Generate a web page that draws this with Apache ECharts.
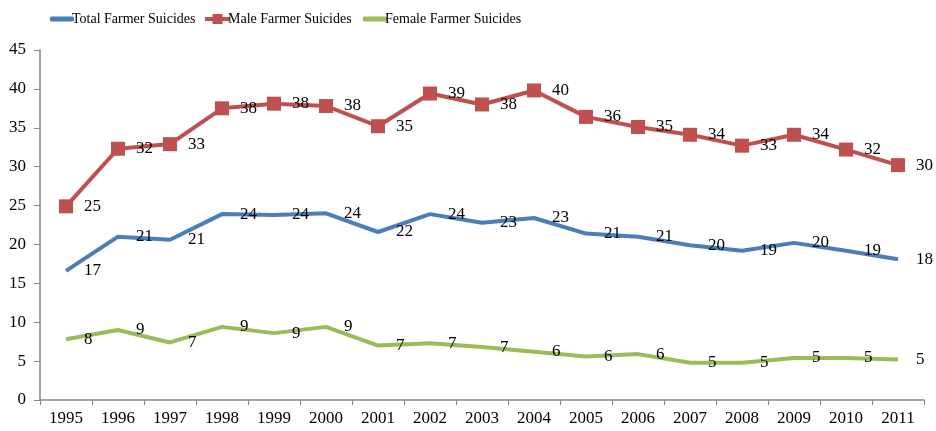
<!DOCTYPE html>
<html><head><meta charset="utf-8">
<script src="https://cdn.jsdelivr.net/npm/echarts@6/dist/echarts.min.js"></script>
<style>html,body{margin:0;padding:0;background:#fff}#c{width:936px;height:431px}</style>
</head><body><div id="c"></div>
<script>
const years = ['1995','1996','1997','1998','1999','2000','2001','2002','2003','2004','2005','2006','2007','2008','2009','2010','2011'];
const totalSuicides = [16.6,21.0,20.6,23.9,23.8,24.0,21.6,23.9,22.8,23.4,21.4,21.0,19.9,19.2,20.2,19.2,18.1];
const maleSuicides = [24.9,32.3,32.9,37.5,38.1,37.8,35.2,39.4,38.0,39.8,36.4,35.1,34.1,32.7,34.1,32.2,30.2];
const femaleSuicides = [7.8,9.0,7.4,9.4,8.6,9.4,7.0,7.3,6.8,6.2,5.6,5.9,4.8,4.8,5.4,5.4,5.2];
const yTicks = [0,5,10,15,20,25,30,35,40,45];

const FONT = 'Liberation Serif';
const axisColor = '#868686';
const labelCfg = {
  show: true, position: 'right', distance: 11, color: '#000',
  fontFamily: FONT, fontSize: 17,
  formatter: p => Math.round(p.value)
};
const legendText = {fontFamily: FONT, fontSize: 14, color: '#000', padding: [2,0,0,-7]};
const chart = echarts.init(document.getElementById('c'), null, {renderer: 'canvas'});
chart.setOption({
  animation: false,
  backgroundColor: '#fff',
  textStyle: {fontFamily: FONT},
  legend: [
    {left: 45, top: 7, itemWidth: 24, itemHeight: 5, icon: 'roundRect',
     data: [{name: 'Total Farmer Suicides', itemStyle: {color: '#4a7ebb'}}], textStyle: legendText},
    {left: 200, top: 7, itemWidth: 25, itemHeight: 10,
     icon: 'path://M0,3 h25 v4 h-25 z M7.5,0 h10 v10 h-10 z',
     data: [{name: 'Male Farmer Suicides', itemStyle: {color: '#c0504d'}}], textStyle: legendText},
    {left: 358, top: 7, itemWidth: 24, itemHeight: 5, icon: 'roundRect',
     data: [{name: 'Female Farmer Suicides', itemStyle: {color: '#9bbb59'}}], textStyle: legendText}
  ],
  grid: {left: 40, right: 12, top: 50, bottom: 31, containLabel: false},
  xAxis: {
    type: 'category', data: years, boundaryGap: true,
    axisLine: {lineStyle: {color: axisColor, width: 1.5}},
    axisTick: {show: true, length: 5, alignWithLabel: false, lineStyle: {color: axisColor}},
    axisLabel: {color: '#000', fontFamily: FONT, fontSize: 17, margin: 10, interval: 0},
    splitLine: {show: false}
  },
  yAxis: {
    type: 'value', min: yTicks[0], max: yTicks[yTicks.length-1], interval: 5,
    axisLine: {show: true, lineStyle: {color: axisColor, width: 1.5}},
    axisTick: {show: true, length: 6, lineStyle: {color: axisColor}},
    axisLabel: {color: '#000', fontFamily: FONT, fontSize: 17, margin: 14},
    splitLine: {show: false}
  },
  series: [
    {name: 'Total Farmer Suicides', type: 'line', data: totalSuicides,
     symbol: 'circle', symbolSize: 14, showSymbol: true,
     itemStyle: {color: 'rgba(0,0,0,0)', borderWidth: 0},
     lineStyle: {color: '#4a7ebb', width: 4},
     label: labelCfg, z: 3},
    {name: 'Male Farmer Suicides', type: 'line', data: maleSuicides,
     symbol: 'rect', symbolSize: 14, showSymbol: true,
     itemStyle: {color: '#c0504d'},
     lineStyle: {color: '#c0504d', width: 4},
     label: labelCfg, z: 4},
    {name: 'Female Farmer Suicides', type: 'line', data: femaleSuicides,
     symbol: 'circle', symbolSize: 14, showSymbol: true,
     itemStyle: {color: 'rgba(0,0,0,0)', borderWidth: 0},
     lineStyle: {color: '#9bbb59', width: 4},
     label: labelCfg, z: 2}
  ]
});
</script></body></html>
